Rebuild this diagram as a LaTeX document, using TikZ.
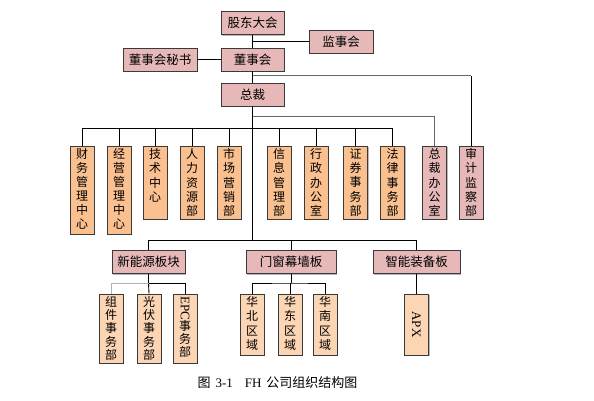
\documentclass[tikz,border=0pt]{standalone}
\usepackage{fontspec}
\setmainfont{Noto Sans CJK SC}
\newfontfamily\lat{Liberation Serif}
\usetikzlibrary{shadows}
\definecolor{pinkf}{HTML}{E6B9B8}
\definecolor{orf}{HTML}{FAC090}
\definecolor{orl}{HTML}{FCD5B4}
\definecolor{edgec}{HTML}{3A3A3A}
\newcommand\colt[3][14.3]{\parbox[c][#2][t]{16pt}{\centering\fontsize{12}{#1}\selectfont\vspace*{2.5pt}#3}}
\begin{document}
\begin{tikzpicture}[x=1pt,y=-1pt,
 box/.style={draw=edgec,line width=0.9pt,inner sep=0pt,
   drop shadow={shadow xshift=1.3pt,shadow yshift=-1.3pt,fill=black!28,opacity=1}},
 hbox/.style={box,fill=pinkf,minimum height=23pt,font=\fontsize{12.5}{14}\selectfont},
 vpink/.style={box,fill=pinkf,minimum width=24pt},
 vor/.style={box,fill=orf,minimum width=24pt},
 vlo/.style={box,fill=orl,minimum width=24pt},
 conn/.style={line width=0.9pt,black},
 gconn/.style={line width=1pt,black!60},
 lconn/.style={line width=0.9pt,black!30},
 ]
\useasboundingbox (0,0) rectangle (594,401);
% top
\node[hbox,minimum width=63pt] (gd) at (252.5,23) {股东大会};
\node[hbox,minimum width=64pt] (js) at (341,41.5) {监事会};
\node[hbox,minimum width=74pt] (ms) at (160,59.5) {董事会秘书};
\node[hbox,minimum width=63pt] (ds) at (252.5,59.5) {董事会};
\node[hbox,minimum width=63pt] (zc) at (252.5,94.5) {总裁};
% departments
\node[vor] (cw) at (82,190) {\colt[14]{88pt}{财\\务\\管\\理\\中\\心}};
\node[vor] (jy) at (119,190) {\colt[14]{88pt}{经\\营\\管\\理\\中\\心}};
\node[vor] (jsz) at (155,182.5) {\colt{73pt}{技\\术\\中\\心}};
\node[vor] (rl) at (192,182.5) {\colt{73pt}{人\\力\\资\\源\\部}};
\node[vor] (sc) at (229,182.5) {\colt{73pt}{市\\场\\营\\销\\部}};
\node[vor] (xx) at (279,182.5) {\colt{73pt}{信\\息\\管\\理\\部}};
\node[vor] (xz) at (316,182.5) {\colt{73pt}{行\\政\\办\\公\\室}};
\node[vor] (zq) at (355.5,182.5) {\colt{73pt}{证\\券\\事\\务\\部}};
\node[vor] (fl) at (392.5,182.5) {\colt{73pt}{法\\律\\事\\务\\部}};
\node[vpink] (zcb) at (434.5,182.5) {\colt{73pt}{总\\裁\\办\\公\\室}};
\node[vpink] (sj) at (471,182.5) {\colt{73pt}{审\\计\\监\\察\\部}};
% divisions
\node[hbox,minimum width=73pt] (xny) at (148.5,262) {新能源板块};
\node[hbox,minimum width=90pt] (mc) at (291,262) {门窗幕墙板};
\node[hbox,minimum width=87pt] (zn) at (416.5,262) {智能装备板};
% sub units
\node[vlo] (zj) at (111,328.5) {\colt[13.2]{69pt}{组\\件\\事\\务\\部}};
\node[vlo] (gf) at (149,328.5) {\colt[13.2]{69pt}{光\\伏\\事\\务\\部}};
\node[vlo] (epc) at (185,328.5) {\colt[13.2]{69pt}{\rotatebox{-90}{\lat\fontsize{13}{14}\selectfont EPC}\\[-1pt]事\\务\\部}};
\node[vlo] (hb) at (252,324.5) {\colt{61pt}{华\\北\\区\\域}};
\node[vlo] (hd) at (290,324.5) {\colt{61pt}{华\\东\\区\\域}};
\node[vlo] (hn) at (325,324.5) {\colt{61pt}{华\\南\\区\\域}};
\node[vlo,minimum height=61pt] (apx) at (416.5,324.5) {\rotatebox{-90}{\lat\fontsize{13}{14}\selectfont APX}};
% caption
\node[font=\fontsize{13}{15}\selectfont] (cap) at (277.5,383) {图\hspace{5pt}{\lat 3-1\hspace{12pt}FH}\hspace{5pt}公司组织结构图};
% coordinates
\coordinate (g1) at (252.5,76);
\coordinate (g2) at (252.5,117);
\coordinate (t1) at (252.5,128);
\coordinate (t2) at (252.5,240);
\coordinate (t3) at (148.5,283);
\coordinate (t4) at (291,283);
% connectors
\draw[conn] (gd) -- (ds);
\draw[conn] (ds.north |- js.west) -- (js.west);
\draw[conn] (ms) -- (ds);
\draw[conn] (ds) -- (zc);
\draw[gconn] (g1) -- (sj.north |- g1);
\draw[conn] (sj.north |- g1) -- (sj.north);
\draw[gconn] (g2) -| (zcb.north);
\draw[conn] (zc.south) -- (t2);
\draw[conn] (cw.north) -- (cw.north |- t1) -- (fl.north |- t1) -- (fl.north);
\foreach \n in {jy,jsz,rl,sc,xx,xz,zq} \draw[conn] (\n.north) -- (\n.north |- t1);
\draw[conn] (xny.north) -- (xny.north |- t2) -- (zn.north |- t2) -- (zn.north);
\draw[conn] (mc.north) -- (mc.north |- t2);
\draw[conn] (xny.south) -- (t3) -- (gf.north);
\draw[lconn] (zj.north) |- (t3);
\draw[conn] (t3) -| (epc.north);
\draw[conn] (mc.south) -- (t4);
\draw[conn] (hb.north) |- (t4) -| (hn.north);
\draw[conn] (hd.north) -- (hd.north |- t4);
\draw[conn] (zn.south) -- (apx.north);
\end{tikzpicture}
\end{document}
